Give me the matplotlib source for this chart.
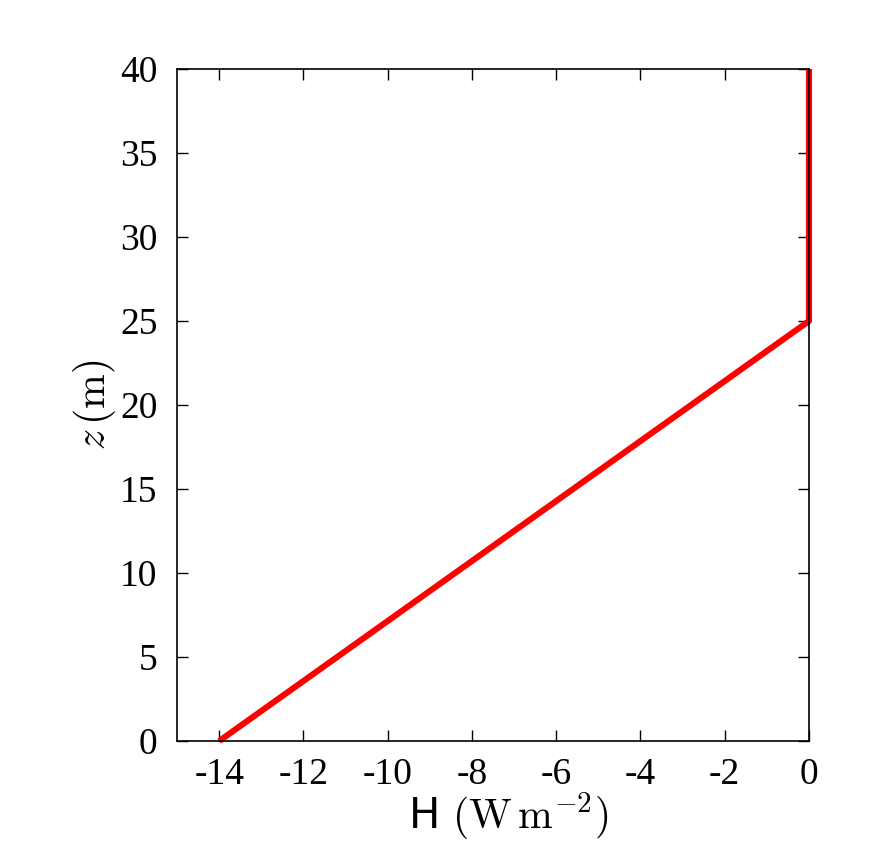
import numpy as np
import matplotlib.pyplot as plt

# heat flux profile
H = [-14, 0, 0]
z = [0, 25, 40]

xticks = [-14, -12, -10, -8, -6, -4, -2, 0]
yticks = [0, 5, 10, 15, 20, 25, 30, 35, 40]

plt.rcParams['font.family'] = ['Liberation Serif', 'DejaVu Serif']
plt.rcParams['mathtext.fontset'] = 'cm'

fig = plt.figure(figsize=(8.78, 8.44), dpi=100)
ax = fig.add_axes([0.2016, 0.122, 0.7198, 0.7962])

ax.plot(H, z, color='red', lw=4.4, clip_on=False, zorder=2, solid_capstyle='butt')

ax.set_xlim(-15, 0)
ax.set_ylim(0, 40)
ax.set_xticks(xticks)
ax.set_yticks(yticks)
ax.set_xticklabels([str(v) for v in xticks])
ax.tick_params(direction='in', length=8, width=1, labelsize=27, top=True, right=True)
ax.tick_params(axis='x', pad=12)
ax.tick_params(axis='y', pad=14)
for s in ax.spines.values():
    s.set_linewidth(1.2)
    s.set_zorder(3)

ax.set_xlabel(r'H $(\mathrm{W\,m^{-2}})$', fontsize=30, family='DejaVu Sans')
ax.xaxis.set_label_coords(0.524, -0.112, transform=ax.transAxes)
ax.xaxis.label.set_va('center')
ax.set_ylabel(r'$z\,(\mathrm{m})$', fontsize=30)
ax.yaxis.set_label_coords(-0.093, 0.5)

fig.savefig('out.png', dpi=100)
